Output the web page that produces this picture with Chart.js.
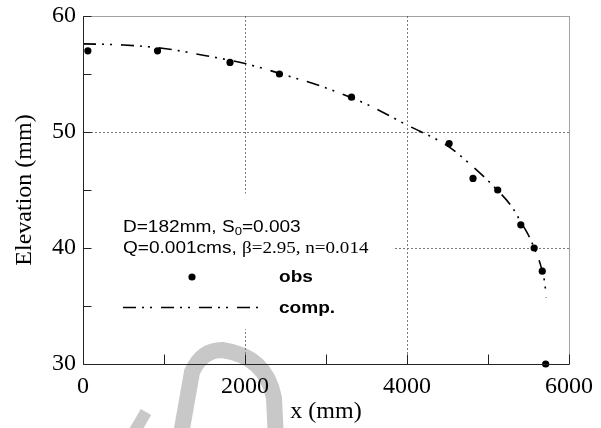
<!DOCTYPE html>
<html>
<head>
<meta charset="utf-8">
<script src="https://cdn.jsdelivr.net/npm/chart.js@4.4.0/dist/chart.umd.min.js"></script>
<style>
  html, body { margin: 0; padding: 0; background: #fff; }
  #wrap { width: 601px; height: 428px; position: relative; }
</style>
</head>
<body>
<div id="wrap"><canvas id="chart"></canvas></div>
<script>
// observed water surface
const obsX = [60, 920, 1815, 2425, 3315, 4520, 4815, 5120, 5405, 5570, 5670, 5712];
const obsY = [57, 57, 56, 55, 53, 49, 46, 45, 42, 40, 38, 30];

// computed profile
const compX = [0, 500, 1000, 1500, 2000, 2500, 3000, 3500, 4000, 4500, 4800, 5100, 5300, 5400, 5500, 5570, 5650, 5700, 5720];
const compY = [57.6, 57.5, 57.2, 56.6, 55.9, 54.9, 53.8, 52.4, 50.6, 48.8, 47.1, 45.1, 43.5, 42.3, 41.1, 40.0, 38.5, 37.0, 35.7];

const xTicks = [0, 2000, 4000, 6000];
const yTicks = [30, 40, 50, 60];
const xMinor = [1000, 3000, 5000];
const yMinor = [35, 45, 55];

const dashDot = [13, 6, 2, 6, 2, 9];
const serif = "'Liberation Serif', 'Times New Roman', serif";
const sans = "'Liberation Sans', Arial, sans-serif";

const toXY = (xs, ys) => xs.map((x, i) => ({ x: x, y: ys[i] }));

// legend box area (in value units so it follows the scales)
const boxX = [0, 3850];
const boxY = [33.0, 44.7];

// text drawn a bit wider than the font, like the original
const STRETCH = 1.19;
function wideText(ctx, str, x, y) {
    ctx.save();
    ctx.translate(x, y);
    ctx.scale(STRETCH, 1);
    ctx.fillText(str, 0, 0);
    ctx.restore();
    return ctx.measureText(str).width * STRETCH;
}

const decor = {
    id: 'decor',
    beforeDraw(chart) {
        // faint grey watermark at the bottom
        const ctx = chart.ctx;
        ctx.save();
        ctx.strokeStyle = '#c8c8c8';
        ctx.lineWidth = 16;
        ctx.beginPath();
        ctx.moveTo(180, 440);
        ctx.lineTo(192, 372);
        ctx.quadraticCurveTo(202, 350, 222, 350);
        ctx.quadraticCurveTo(266, 356, 274, 398);
        ctx.lineTo(276, 440);
        ctx.stroke();
        ctx.lineWidth = 12;
        ctx.beginPath();
        ctx.moveTo(132, 436);
        ctx.lineTo(146, 412);
        ctx.stroke();
        ctx.restore();
    },
    beforeDatasetsDraw(chart) {
        const { ctx, chartArea: a, scales: { x, y } } = chart;
        ctx.save();
        ctx.strokeStyle = '#7a7a7a';
        ctx.lineWidth = 1;
        ctx.setLineDash([2, 2]);
        [2000, 4000].forEach(v => {
            const px = Math.round(x.getPixelForValue(v)) + 0.5;
            ctx.beginPath(); ctx.moveTo(px, a.top); ctx.lineTo(px, a.bottom); ctx.stroke();
        });
        [40, 50].forEach(v => {
            const py = Math.round(y.getPixelForValue(v)) + 0.5;
            ctx.beginPath(); ctx.moveTo(a.left, py); ctx.lineTo(a.right, py); ctx.stroke();
        });
        ctx.setLineDash([]);
        // white legend box hides the grid
        const bx0 = x.getPixelForValue(boxX[0]) + 1, bx1 = x.getPixelForValue(boxX[1]);
        const by0 = y.getPixelForValue(boxY[1]), by1 = y.getPixelForValue(boxY[0]);
        ctx.fillStyle = '#fff';
        ctx.fillRect(bx0, by0, bx1 - bx0, by1 - by0);
        ctx.restore();
    },
    afterDatasetsDraw(chart) {
        const { ctx, chartArea: a, scales: { x, y } } = chart;
        ctx.save();
        const L = Math.round(a.left) + 0.5, R = Math.round(a.right) + 0.5;
        const T = Math.round(a.top) + 0.5, B = Math.round(a.bottom) + 0.5;
        // top and right borders dotted
        ctx.strokeStyle = '#444';
        ctx.lineWidth = 1;
        ctx.setLineDash([1, 1]);
        ctx.beginPath(); ctx.moveTo(L, T); ctx.lineTo(R, T); ctx.lineTo(R, B); ctx.stroke();
        ctx.setLineDash([]);
        // left and bottom axis lines
        ctx.strokeStyle = '#222';
        ctx.beginPath(); ctx.moveTo(L, T); ctx.lineTo(L, B); ctx.lineTo(R, B); ctx.stroke();
        // inward tick marks
        yTicks.concat(yMinor).forEach(v => {
            const py = Math.round(y.getPixelForValue(v)) + 0.5;
            ctx.beginPath(); ctx.moveTo(L, py); ctx.lineTo(L + 8, py); ctx.stroke();
        });
        xTicks.concat(xMinor).forEach(v => {
            const px = Math.round(x.getPixelForValue(v)) + 0.5;
            ctx.beginPath(); ctx.moveTo(px, B); ctx.lineTo(px, B - 10); ctx.stroke();
        });

        // legend text
        ctx.fillStyle = '#000';
        ctx.textBaseline = 'alphabetic';
        ctx.textAlign = 'left';
        let tx = 123;
        ctx.font = '16px ' + sans;
        tx += wideText(ctx, 'D=182mm, S', tx, 232);
        ctx.font = '11px ' + sans;
        tx += wideText(ctx, '0', tx, 235);
        ctx.font = '16px ' + sans;
        wideText(ctx, '=0.003', tx, 232);

        tx = 123;
        tx += wideText(ctx, 'Q=0.001cms, ', tx, 253);
        ctx.font = '16px ' + serif;
        wideText(ctx, '\u03b2=2.95, n=0.014', tx, 253);

        ctx.font = 'bold 16px ' + sans;
        wideText(ctx, 'obs', 279, 282);
        wideText(ctx, 'comp.', 279, 313);

        ctx.beginPath();
        ctx.arc(192, 277, 3.6, 0, Math.PI * 2);
        ctx.fill();

        ctx.strokeStyle = '#000';
        ctx.lineWidth = 1.6;
        ctx.setLineDash(dashDot);
        ctx.beginPath(); ctx.moveTo(123, 307.5); ctx.lineTo(258, 307.5); ctx.stroke();
        ctx.restore();
    }
};

new Chart(document.getElementById('chart'), {
    type: 'scatter',
    data: {
        datasets: [
            {
                label: 'comp.',
                data: toXY(compX, compY),
                showLine: true,
                borderColor: '#000',
                borderWidth: 1.6,
                borderDash: dashDot,
                pointRadius: 0,
                cubicInterpolationMode: 'monotone',
                clip: false
            },
            {
                label: 'obs',
                data: toXY(obsX, obsY),
                showLine: false,
                pointRadius: 3.6,
                pointBackgroundColor: '#000',
                pointBorderColor: '#000',
                pointBorderWidth: 0,
                clip: false
            }
        ]
    },
    options: {
        responsive: true,
        maintainAspectRatio: false,
        animation: false,
        layout: { padding: { top: 16, right: 32, left: 0, bottom: 0 } },
        plugins: { legend: { display: false }, tooltip: { enabled: false } },
        scales: {
            x: {
                type: 'linear',
                min: 0, max: 6000,
                afterFit: s => { s.height = 64; s.paddingLeft = 0; s.paddingRight = 0; },
                afterBuildTicks: s => { s.ticks = xTicks.map(v => ({ value: v })); },
                grid: { display: false, drawTicks: false },
                border: { display: false },
                ticks: { color: '#000', padding: 8, maxRotation: 0, callback: v => String(v), font: { family: serif, size: 24 } },
                title: { display: true, text: 'x (mm)', color: '#000', padding: { top: 0, bottom: 2 }, font: { family: serif, size: 24 } }
            },
            y: {
                type: 'linear',
                min: 30, max: 60,
                afterFit: s => { s.width = 83; s.paddingTop = 0; s.paddingBottom = 0; },
                afterBuildTicks: s => { s.ticks = yTicks.map(v => ({ value: v })); },
                grid: { display: false, drawTicks: false },
                border: { display: false },
                ticks: { color: '#000', padding: 7, callback: v => String(v), font: { family: serif, size: 24 } },
                title: { display: true, text: 'Elevation (mm)', color: '#000', padding: { top: 10, bottom: 0 }, font: { family: serif, size: 24 } }
            }
        }
    },
    plugins: [decor]
});
</script>
</body>
</html>
